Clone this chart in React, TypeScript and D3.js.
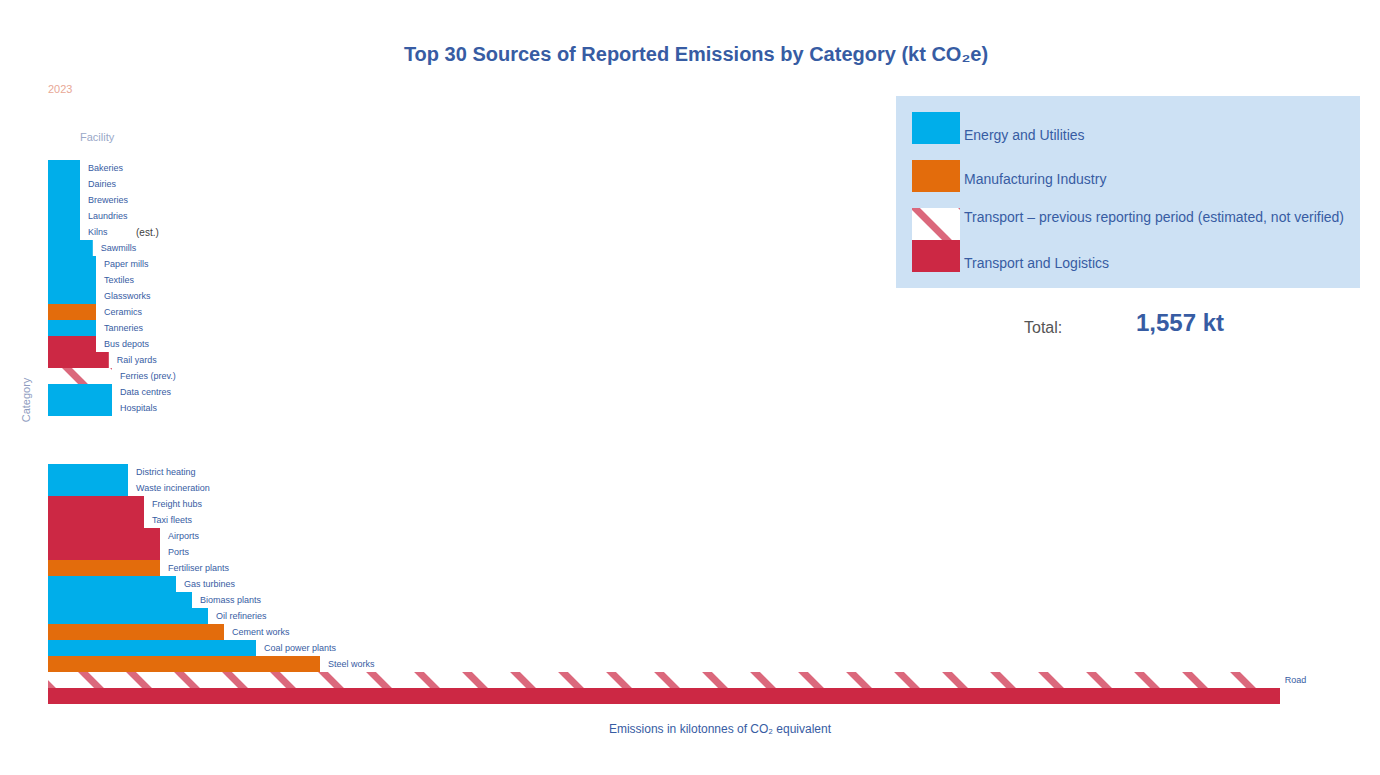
import React, { useEffect, useRef } from 'react';
import * as d3 from 'd3';

// rows top -> bottom, values in kt CO2e
const categories = [
  'Bakeries', 'Dairies', 'Breweries', 'Laundries', 'Kilns',
  'Sawmills', 'Paper mills', 'Textiles', 'Glassworks', 'Ceramics',
  'Tanneries', 'Bus depots', 'Rail yards', 'Ferries (prev.)', 'Data centres',
  'Hospitals', '', ' ', '  ', 'District heating',
  'Waste incineration', 'Freight hubs', 'Taxi fleets', 'Airports', 'Ports',
  'Fertiliser plants', 'Gas turbines', 'Biomass plants', 'Oil refineries', 'Cement works',
  'Coal power plants', 'Steel works', 'Road', 'Road traffic'
];
const values = [
  10, 10, 10, 10, 10,
  14, 15, 15, 15, 15,
  15, 15, 19, 20, 20,
  20, 0, 0, 0, 25,
  25, 30, 30, 35, 35,
  35, 40, 45, 50, 55,
  65, 85, 384, 385
];
const types = [
  'energy', 'energy', 'energy', 'energy', 'energy',
  'energy', 'energy', 'energy', 'energy', 'industry',
  'energy', 'transport', 'transport', 'previous', 'energy',
  'energy', '', '', '', 'energy',
  'energy', 'transport', 'transport', 'transport', 'transport',
  'industry', 'energy', 'energy', 'energy', 'industry',
  'energy', 'industry', 'previous', 'transport'
];

const legendKeys = ['energy', 'industry', 'previous', 'transport'];
const legendLabels = [
  'Energy and Utilities',
  'Manufacturing Industry',
  'Transport \u2013 previous reporting period (estimated, not verified)',
  'Transport and Logistics'
];

const colors: Record<string, string> = {
  energy: '#00AEEA',
  industry: '#E36C0C',
  transport: '#CC2844',
  previous: 'url(#hatch)'
};

const FONT = '"Liberation Sans", Arial, sans-serif';
const BLUE = '#375CA3';

const App: React.FC = () => {
  const svgRef = useRef<SVGSVGElement>(null);

  useEffect(() => {
    if (!svgRef.current) return;
    const svg = d3.select(svgRef.current);
    svg.selectAll('*').remove();

    const width = 1380;
    const height = 775;

    const defs = svg.append('defs');
    const pat = defs.append('pattern')
      .attr('id', 'hatch')
      .attr('patternUnits', 'userSpaceOnUse')
      .attr('width', 48)
      .attr('height', 48)
      .attr('patternTransform', 'translate(35,0)');
    pat.append('rect').attr('width', 48).attr('height', 48).attr('fill', '#fff');
    pat.append('path')
      .attr('d', 'M0,0L48,48M-24,24L24,72M24,-24L72,24')
      .attr('stroke', '#CC2844')
      .attr('stroke-opacity', 0.7)
      .attr('stroke-width', 7);

    svg.append('rect').attr('width', width).attr('height', height).attr('fill', '#fff');

    const x = d3.scaleLinear().domain([0, 385]).range([48, 1280]);
    const y = d3.scaleBand<string>().domain(categories).range([160, 704]).padding(0);

    // title
    svg.append('text')
      .attr('x', 696)
      .attr('y', 61)
      .attr('text-anchor', 'middle')
      .style('font-family', FONT)
      .style('font-size', '20px')
      .style('font-weight', 'bold')
      .style('fill', BLUE)
      .text('Top 30 Sources of Reported Emissions by Category (kt CO\u2082e)');

    // small header texts
    svg.append('text')
      .attr('x', 48).attr('y', 93)
      .style('font-family', FONT).style('font-size', '11px')
      .style('fill', '#E8A896')
      .text('2023');
    svg.append('text')
      .attr('x', 80).attr('y', 141)
      .style('font-family', FONT).style('font-size', '11px')
      .style('fill', '#9AA8C8')
      .text('Facility');

    svg.append('text')
      .attr('transform', 'translate(30,400) rotate(-90)')
      .attr('text-anchor', 'middle')
      .style('font-family', FONT).style('font-size', '11px')
      .style('fill', '#8E9CC0')
      .text('Category');

    const rows = categories.map((c, i) => ({ c, v: values[i], t: types[i], i }));

    svg.append('g')
      .selectAll('rect')
      .data(rows.filter(d => d.v > 0))
      .enter()
      .append('rect')
      .attr('x', x(0))
      .attr('y', d => y(d.c)!)
      .attr('width', d => x(d.v) - x(0))
      .attr('height', y.bandwidth())
      .attr('fill', d => colors[d.t]);

    // bar labels (the last bar's label sits on the row above it)
    svg.append('g')
      .selectAll('text')
      .data(rows.filter(d => d.v > 0 && d.i < categories.length - 1))
      .enter()
      .append('text')
      .attr('x', d => x(d.v) + 8)
      .attr('y', d => y(d.c)! + y.bandwidth() / 2 + 3)
      .style('font-family', FONT)
      .style('font-size', '9px')
      .style('fill', BLUE)
      .text(d => d.c.trim());

    svg.append('text')
      .attr('x', 136).attr('y', 236)
      .style('font-family', FONT).style('font-size', '10px')
      .style('fill', '#404040')
      .text('(est.)');

    // x axis title
    svg.append('text')
      .attr('x', 720)
      .attr('y', 733)
      .attr('text-anchor', 'middle')
      .style('font-family', FONT)
      .style('font-size', '12px')
      .style('fill', BLUE)
      .text('Emissions in kilotonnes of CO\u2082 equivalent');

    // legend
    const lg = svg.append('g');
    lg.append('rect')
      .attr('x', 896).attr('y', 96)
      .attr('width', 464).attr('height', 192)
      .attr('fill', '#CDE1F4');
    const swY = [112, 160, 208, 240];
    const txtDy = [28, 24, 14, 28];
    legendKeys.forEach((k, i) => {
      lg.append('rect')
        .attr('x', 912).attr('y', swY[i])
        .attr('width', 48).attr('height', 32)
        .attr('fill', colors[k]);
      lg.append('text')
        .attr('x', 964)
        .attr('y', swY[i] + txtDy[i])
        .style('font-family', FONT)
        .style('font-size', '14px')
        .style('fill', BLUE)
        .text(legendLabels[i]);
    });

    // total note
    svg.append('text')
      .attr('x', 1024).attr('y', 333)
      .style('font-family', FONT).style('font-size', '16px')
      .style('fill', '#555')
      .text('Total:');
    svg.append('text')
      .attr('x', 1136).attr('y', 331)
      .style('font-family', FONT).style('font-size', '24px')
      .style('font-weight', 'bold')
      .style('fill', BLUE)
      .text(d3.format(',')(d3.sum(values)) + ' kt');
  }, []);

  return (
    <div style={{ position: 'absolute', left: 0, top: 0 }}>
      <svg ref={svgRef} width={1380} height={775} style={{ display: 'block' }} />
    </div>
  );
};

export default App;
